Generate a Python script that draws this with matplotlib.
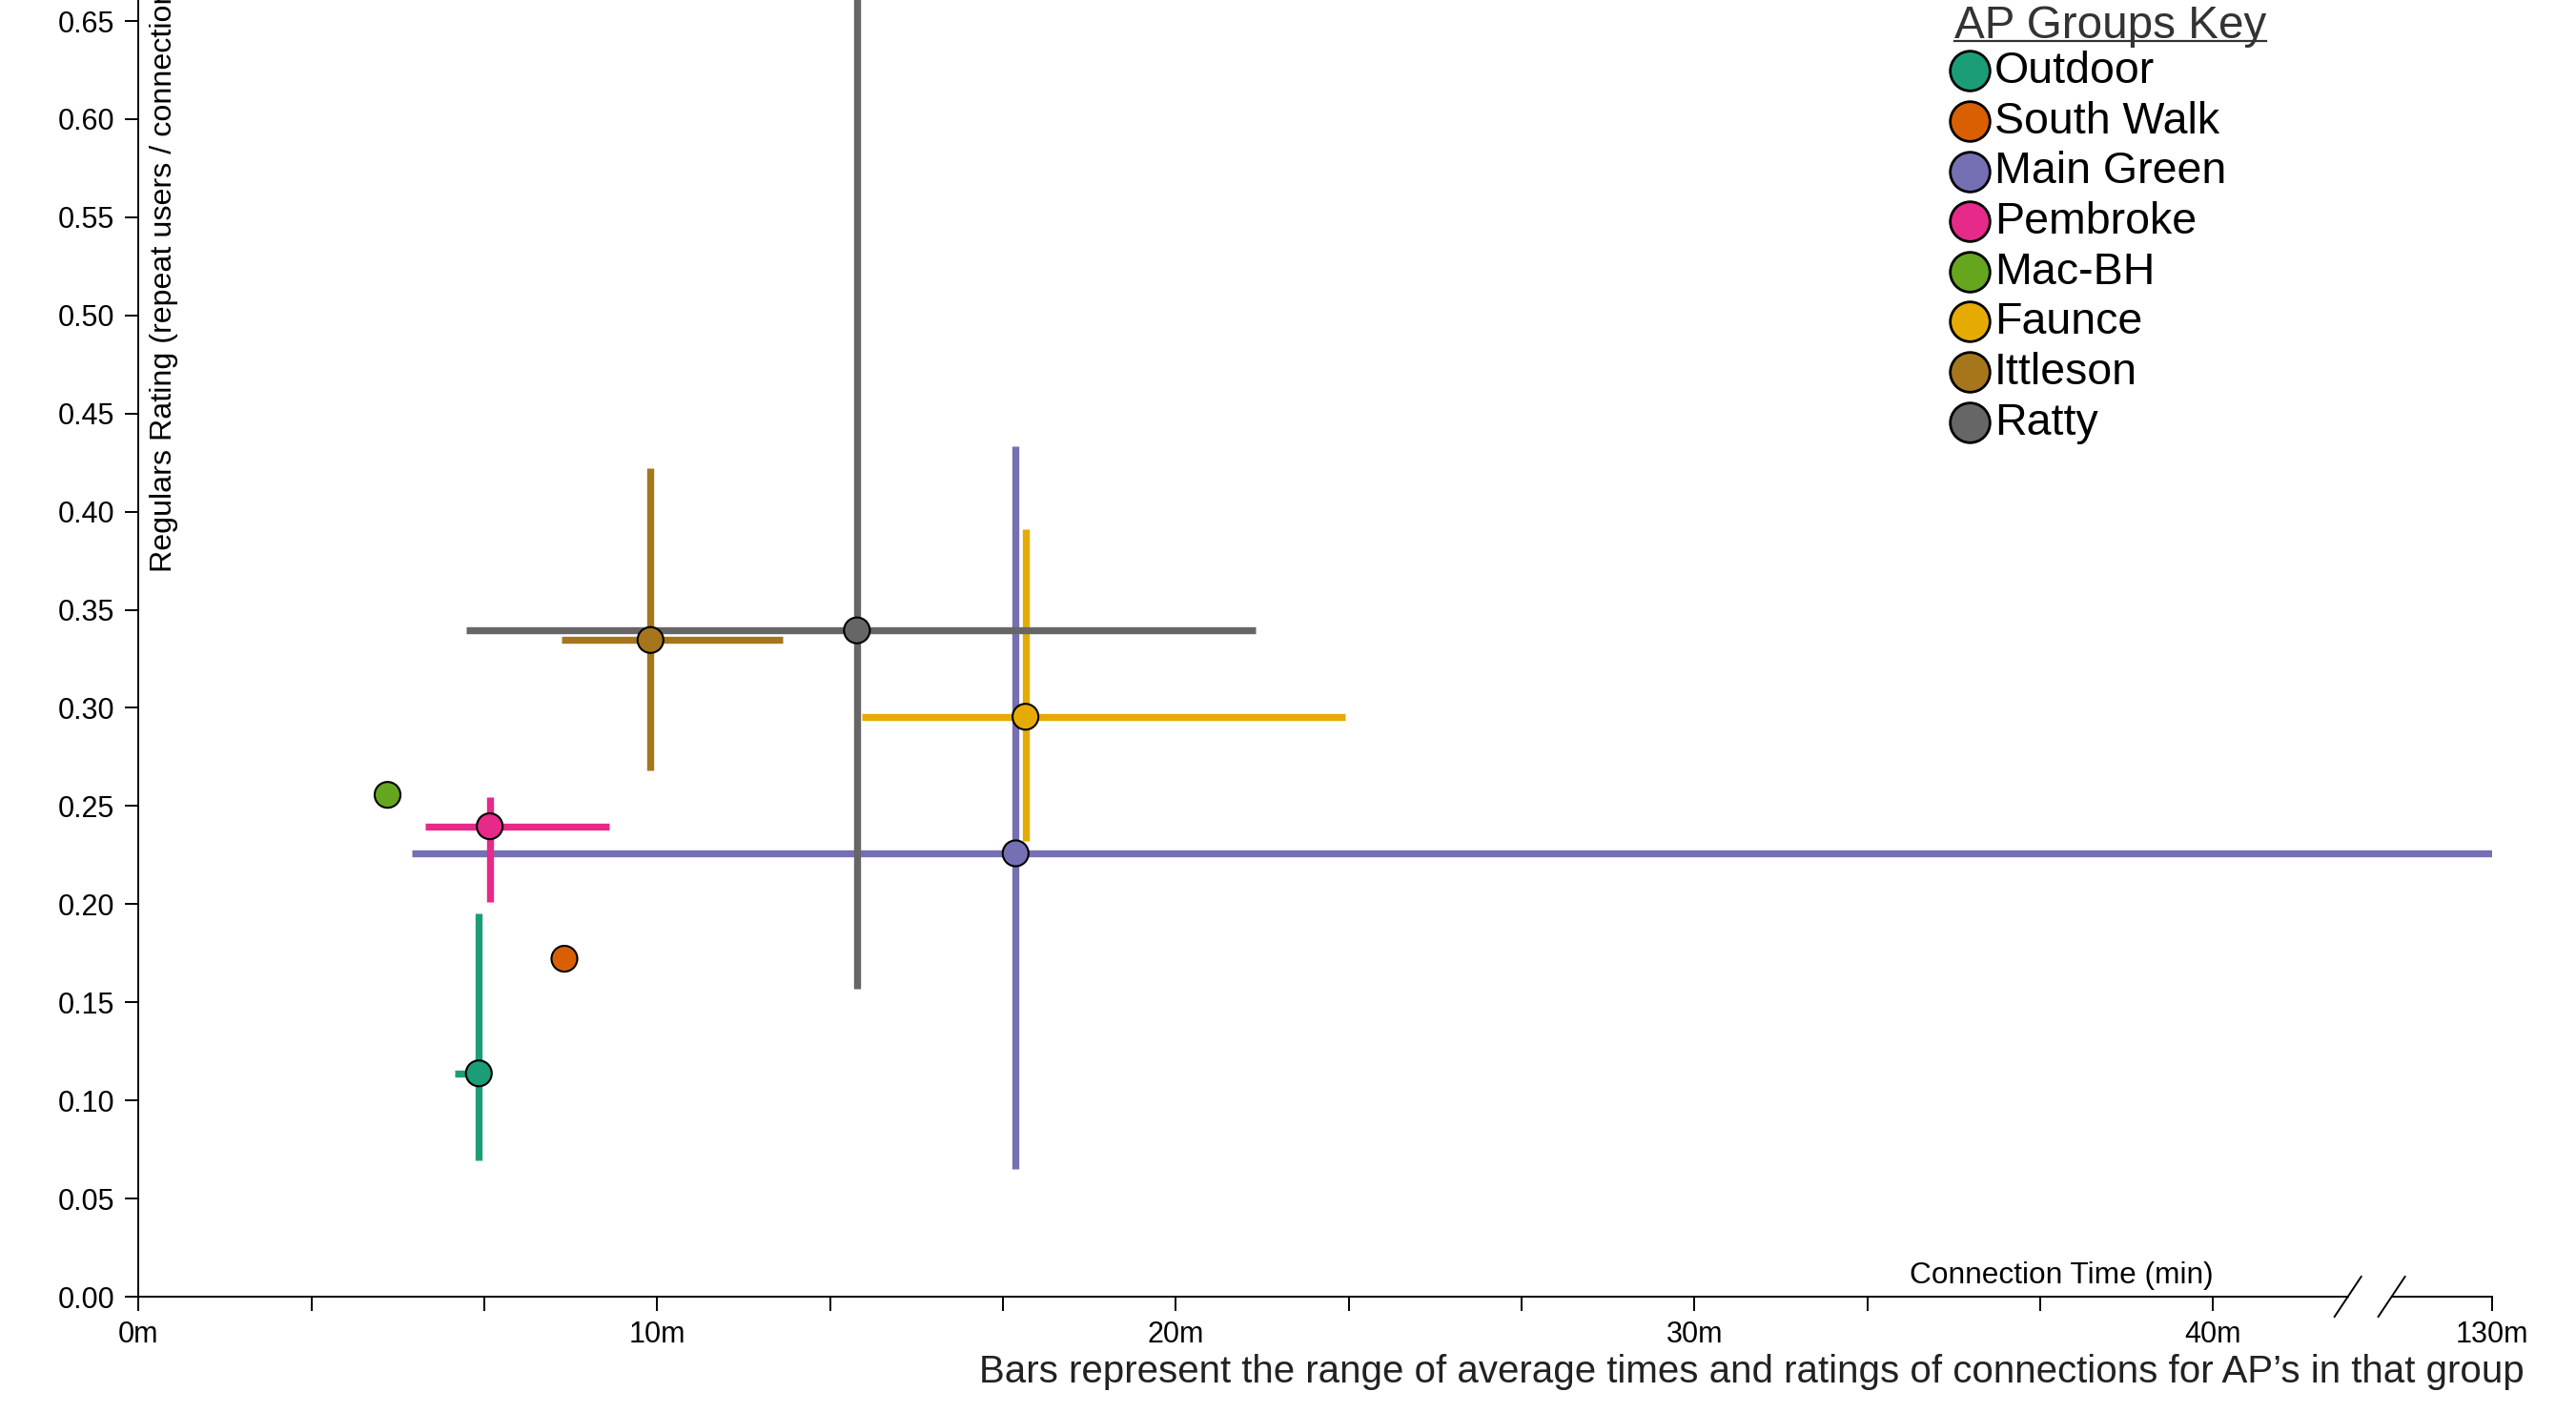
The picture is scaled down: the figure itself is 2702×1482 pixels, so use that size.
import numpy as np
import matplotlib
matplotlib.use("Agg")
import matplotlib.pyplot as plt
from matplotlib.lines import Line2D
from matplotlib.ticker import FixedLocator, FixedFormatter

plt.rcParams['font.family'] = ['Liberation Sans', 'DejaVu Sans']

# ---------------- data ----------------
groups = ["Outdoor", "South Walk", "Main Green", "Pembroke", "Mac-BH", "Faunce", "Ittleson", "Ratty"]
colors = ["#1b9e77", "#d95f02", "#7570b3", "#e7298a", "#66a61e", "#e6ab02", "#a6761d", "#666666"]
time_avg = [6.56, 8.21, 16.91, 6.77, 4.80, 17.10, 9.87, 13.85]          # minutes
time_min = [6.10, np.nan, 5.27, 5.53, np.nan, 13.94, 8.15, 6.31]
time_max = [6.60, np.nan, 130.0, 9.08, np.nan, 23.27, 12.42, 21.54]
rating_avg = [0.1138, 0.1722, 0.2259, 0.2397, 0.2557, 0.2955, 0.3346, 0.3395]
rating_min = [0.0694, np.nan, 0.0649, 0.2013, np.nan, 0.2322, 0.2684, 0.1571]
rating_max = [0.1954, np.nan, 0.4331, 0.2547, np.nan, 0.3912, 0.4221, 0.70]

x_ticks = [i * 10 / 3 for i in range(13)] + [130]
x_ticklabels = ["0m", "", "", "10m", "", "", "20m", "", "", "30m", "", "", "40m", "130m"]
y_ticks = [round(0.05 * i, 2) for i in range(14)]
y_ticklabels = ["%.2f" % v for v in y_ticks]

# ---------------- broken x scale ----------------
B = 43.33
K = (45.37 - B) / (130.0 - B)


def fwd(x):
    x = np.asarray(x, dtype=float)
    return np.where(x <= B, x, B + (x - B) * K)


def inv(y):
    y = np.asarray(y, dtype=float)
    return np.where(y <= B, y, B + (y - B) / K)


W, H = 2702, 1482
fig = plt.figure(figsize=(W / 100, H / 100), dpi=100)
ax_left, ax_right, ax_bottom = 145.4, 2613.5, 1360.0
ax = fig.add_axes([ax_left / W, 1 - ax_bottom / H, (ax_right - ax_left) / W, ax_bottom / H])
ax.set_xscale('function', functions=(fwd, inv))
ax.set_xlim(0, 130)
ax.set_ylim(0, 0.6607)

# bars
for i in range(len(groups)):
    if not np.isnan(time_min[i]):
        ax.hlines(rating_avg[i], time_min[i], time_max[i], colors=colors[i],
                  linewidth=5.3, capstyle='butt', zorder=2)
    if not np.isnan(rating_min[i]):
        ax.vlines(time_avg[i], rating_min[i], rating_max[i], colors=colors[i],
                  linewidth=5.3, capstyle='butt', zorder=2)

ax.scatter(time_avg, rating_avg, s=19.5 ** 2, c=colors, edgecolors='black',
           linewidths=1.5, zorder=3)

# axes styling
for s in ['top', 'right', 'bottom']:
    ax.spines[s].set_visible(False)
ax.spines['left'].set_linewidth(1.4)
ax.xaxis.set_major_locator(FixedLocator(x_ticks))
ax.xaxis.set_major_formatter(FixedFormatter(x_ticklabels))
ax.xaxis.set_minor_locator(FixedLocator([]))
ax.yaxis.set_major_locator(FixedLocator(y_ticks))
ax.yaxis.set_major_formatter(FixedFormatter(y_ticklabels))
ax.tick_params(axis='x', length=11, width=1.4, pad=7, labelsize=22, direction='out')
ax.tick_params(axis='y', length=10, width=1.4, pad=8, labelsize=22, direction='out')

# broken x axis line with slashes
s1, s2 = 0.9389, 0.9575
ax.add_line(Line2D([0, s1], [0, 0], transform=ax.transAxes, color='black', lw=1.4, clip_on=False))
ax.add_line(Line2D([s2, 1], [0, 0], transform=ax.transAxes, color='black', lw=1.4, clip_on=False))
axw = ax_right - ax_left
dx, dy = 14 / axw, 21 / ax_bottom
for s in (s1, s2):
    ax.add_line(Line2D([s - dx, s + dx], [-dy, dy], transform=ax.transAxes,
                       color='black', lw=1.4, clip_on=False))

# axis labels
ax.text(40, 14 / ax_bottom, "Connection Time (min)", transform=ax.get_xaxis_transform(),
        ha='right', va='baseline', fontsize=22.8)
fig.text(172 / W, 1 - 600 / H, "Regulars Rating (repeat users / connections)", rotation=90,
         ha='center', va='bottom', fontsize=23.2)
fig.text(2648 / W, 1 - 1450 / H,
         "Bars represent the range of average times and ratings of connections for AP\u2019s in that group",
         ha='right', va='baseline', fontsize=29, color='#222222')

# legend
title = fig.text(2050 / W, 1 - 40 / H, "AP Groups Key", ha='left', va='baseline',
                 fontsize=34.3, color='#333333')
for i, (g, c) in enumerate(zip(groups, colors)):
    yp = 74.3 + i * 52.6
    fig.add_artist(Line2D([2066 / W], [1 - yp / H], marker='o', markersize=30, mfc=c,
                          mec='black', mew=2, linestyle='none', transform=fig.transFigure))
    fig.text(2091.7 / W, 1 - (yp + 13) / H, g, ha='left', va='baseline', fontsize=33.5)

fig.canvas.draw()
bb = title.get_window_extent(renderer=fig.canvas.get_renderer())
fig.add_artist(Line2D([bb.x0 / W, bb.x1 / W], [1 - 43 / H, 1 - 43 / H], color='#333333',
                      lw=1.6, transform=fig.transFigure))

fig.savefig('out.png', dpi=100)
